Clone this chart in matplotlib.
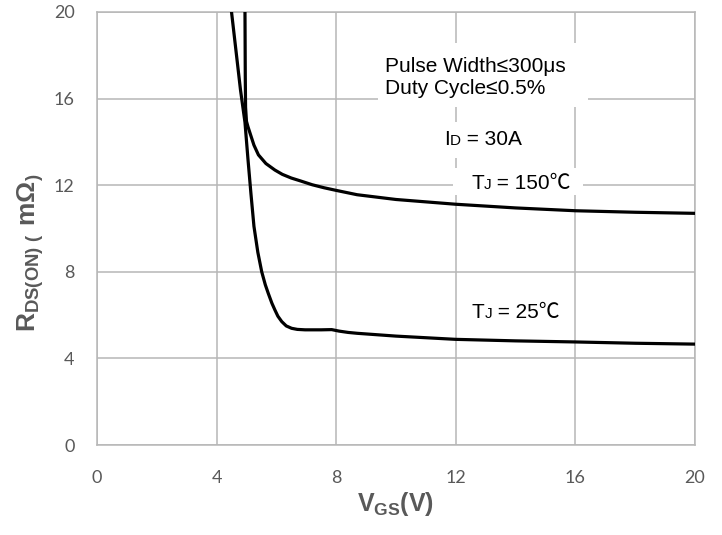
"""On-resistance vs gate-source voltage (ID = 30 A)."""

import matplotlib
matplotlib.use("Agg")
import matplotlib.pyplot as plt
from matplotlib.offsetbox import AnnotationBbox, HPacker, TextArea
from matplotlib.patches import Rectangle

# curve data: VGS (V) vs RDS(on) (mOhm)
vgs_150 = [4.95, 4.96, 4.97, 5.0, 5.05, 5.12, 5.25, 5.4, 5.65, 5.95, 6.2, 6.5,
           6.8, 7.2, 7.6, 8.0, 8.7, 10.0, 12.0, 14.0, 16.0, 18.0, 20.0]
rds_150 = [20.0, 17.0, 15.6, 14.95, 14.7, 14.4, 13.85, 13.4, 13.0, 12.7, 12.5,
           12.33, 12.2, 12.02, 11.88, 11.76, 11.56, 11.34, 11.12, 10.95, 10.82,
           10.75, 10.7]

vgs_25 = [4.5, 4.6, 4.7, 4.8, 4.9, 4.95, 5.05, 5.15, 5.25, 5.38, 5.51, 5.63,
          5.73, 5.85, 5.95, 6.05, 6.18, 6.33, 6.51, 6.7, 6.96, 7.5, 7.85, 8.1,
          8.4, 8.7, 9.3, 10.0, 12.0, 14.0, 16.0, 18.0, 20.0]
rds_25 = [20.0, 18.8, 17.6, 16.4, 15.4, 14.9, 13.2, 11.6, 10.1, 8.9, 8.0, 7.4,
          7.0, 6.55, 6.24, 5.95, 5.7, 5.5, 5.39, 5.34, 5.32, 5.32, 5.33, 5.26,
          5.2, 5.16, 5.1, 5.03, 4.88, 4.81, 4.76, 4.7, 4.66]

ticks = [0, 4, 8, 12, 16, 20]

plt.rcParams["mathtext.fontset"] = "custom"
plt.rcParams["mathtext.rm"] = "Liberation Sans"
plt.rcParams["mathtext.bf"] = "Liberation Sans:bold"

fig = plt.figure(figsize=(7.22, 5.35), dpi=100)
ax = fig.add_axes([0.1343, 0.1682, 0.8283, 0.8094])

grid_c = "#b7b7b7"
for v, r in [(vgs_150, rds_150), (vgs_25, rds_25)]:
    ax.plot(v, r, color="black", lw=2.3, zorder=3, solid_joinstyle="round")

ax.set_xlim(0, 20)
ax.set_ylim(0, 20)
ax.set_xticks(ticks)
ax.set_yticks(ticks)
ax.grid(True, color=grid_c, lw=1.1, zorder=0)
ax.set_axisbelow(True)
for sp in ax.spines.values():
    sp.set_color(grid_c)
    sp.set_linewidth(1.1)
ax.tick_params(axis="both", length=0, labelsize=13, labelcolor="#595959")
ax.tick_params(axis="x", pad=18)
ax.tick_params(axis="y", pad=16)
for lab in ax.get_xticklabels() + ax.get_yticklabels():
    lab.set_family("Lato")

ax.set_xlabel(r"$\mathbf{V_{GS}(V)}$", fontsize=18, color="#595959", labelpad=3)
ax.set_ylabel(r"$\mathbf{R}_{\mathbf{DS(ON)\ (}}\ \mathbf{m\Omega}_{\mathbf{)}}$",
              fontsize=19, color="#595959")
ax.yaxis.set_label_coords(-0.085, 0.445)

# white panels behind the notes so the grid breaks around them
for x0, y0, w, h in [(0.470, 0.781, 0.351, 0.147),
                     (0.570, 0.663, 0.156, 0.083),
                     (0.595, 0.577, 0.218, 0.063)]:
    ax.add_patch(Rectangle((x0, y0), w, h, transform=ax.transAxes,
                           facecolor="white", edgecolor="none", zorder=1))

fam = ["Liberation Sans", "Noto Sans CJK SC", "DejaVu Sans"]
ax.text(9.63, 16.97, "Pulse Width≤300μs\nDuty Cycle≤0.5%", fontsize=15,
        family=fam, ha="left", va="center", linespacing=1.2, zorder=2)


def note(x, y, big, small, rest):
    parts = [TextArea(big, textprops=dict(fontsize=15, family=fam)),
             TextArea(small, textprops=dict(fontsize=11, family=fam)),
             TextArea(rest, textprops=dict(fontsize=15, family=fam))]
    pack = HPacker(children=parts, align="baseline", pad=0, sep=0)
    ab = AnnotationBbox(pack, (x, y), frameon=False, box_alignment=(0.5, 0.5),
                        zorder=2)
    ax.add_artist(ab)


note(12.9, 14.1, "I", "D", " = 30A")
note(14.18, 12.1, "T", "J", " = 150℃")
note(14.0, 6.14, "T", "J", " = 25℃")

fig.savefig("out.png", dpi=100)
